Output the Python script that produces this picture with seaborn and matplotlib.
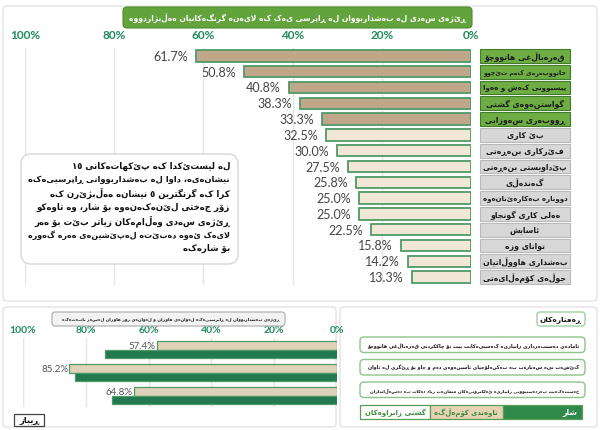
import re
import unicodedata

import matplotlib
matplotlib.use('Agg')
import matplotlib.pyplot as plt
import matplotlib.transforms as mtransforms
from matplotlib.patches import FancyBboxPatch, Rectangle
import pandas as pd
import seaborn as sns

# ---------------- data ----------------
title_top = "ڕێژەی سەدی لە بەشداربووان لە ڕاپرسی یەک کە لایەنە گرنگەکانیان هەڵبژاردووە"

categories = [
    "قەرەباڵغی هاتووچۆ",
    "خانووبەرەی کەم تێچوو",
    "پیسبوونی کەش و هەوا",
    "گواستنەوەی گشتی",
    "ڕووبەری سەوزایی",
    "بێ کاری",
    "فێرکاری بنەڕەتی",
    "پێداویستی بنەڕەتی",
    "گەندەڵی",
    "دووبارە بەکارهێنانەوە",
    "هەلی کاری گونجاو",
    "ئاسایش",
    "توانای وزە",
    "بەشداری هاووڵاتیان",
    "جوڵەی کۆمەڵایەتی",
]
percent = [61.7, 50.8, 40.8, 38.3, 33.3, 32.5, 30.0, 27.5, 25.8, 25.0, 25.0, 22.5, 15.8, 14.2, 13.3]
top_n = 5
x_ticks = [100, 80, 60, 40, 20, 0]

note_lines = [
    "لە لیستێکدا کە پێکهاتەکانی ١٥",
    "نیشانەیە، داوا لە بەشداربووانی ڕاپرسییەکە",
    "کرا کە گرنگترین ٥ نیشانە هەڵبژێرن کە",
    "زۆر جەختی لێنەکەنەوە بۆ شار، وە تاوەکو",
    "ڕێژەی سەدی وەڵامەکان زیاتر بێت بۆ هەر",
    "لایەک ئەوە دەبێتە لەپێشینەی هەرە گەورە",
    "بۆ شارەکە",
]

title_bottom = "ڕێژەی بەشداربووان لە ڕاپرسییەکە لەوانەی هاوڕان و لەوانەی زۆر هاوڕان لەسەر بابەتەکە"
behaviours_title = "ڕەفتارەکان"
behaviours = [
    "ئامادەی دەستبەرداری زانیاریە کەسییەکانت بیت بۆ چاککردنی قەرەباڵغی هاتووچۆ",
    "کێشەت نیە سەبارەت بە تەکنەلۆجیای ناسینەوەی دەم و چاو بۆ ڕێگری لە تاوان",
    "خەستەکەیت بەردەستبوونی زانیاریە ئەلکترۆنیەکان متمانەت زیاد دەکات بە دەسەڵاتداران",
]
series_names = ["شار", "ناوەندی کۆمەڵگە", "گشتی زانراوەکان"]
community = [57.4, 85.2, 64.8]
city = [73.8, 83.4, 71.6]
button_text = "ڕیباز"

# ---------------- simple arabic shaping (matplotlib has no rtl layout) ----------------
FORMS = {}
for cp in range(0xFB50, 0xFF00):
    parts = unicodedata.decomposition(chr(cp)).split()
    if len(parts) == 2 and parts[0] in ('<isolated>', '<final>', '<initial>', '<medial>'):
        FORMS.setdefault(chr(int(parts[1], 16)), {})[parts[0][1:-1]] = chr(cp)


def dual(c):
    f = FORMS.get(c, {})
    return 'initial' in f and 'medial' in f


def right(c):
    return 'final' in FORMS.get(c, {})


def rtl(s):
    out = []
    i = 0
    while i < len(s):
        c = s[i]
        after = dual(s[i - 1]) if i > 0 else False
        if c == 'ل' and s[i + 1:i + 2] == 'ا':
            out.append('\ufefc' if after else '\ufefb')
            i += 2
            continue
        a = after and right(c)
        b = dual(c) and i + 1 < len(s) and right(s[i + 1])
        form = 'medial' if a and b else 'final' if a else 'initial' if b else 'isolated'
        out.append(FORMS.get(c, {}).get(form, c))
        i += 1
    text = ''.join(out)[::-1]
    return re.sub(r'[0-9\u0660-\u0669]+', lambda m: m.group(0)[::-1], text)


# ---------------- style ----------------
sns.set_style('white')
plt.rcParams['font.family'] = ['DejaVu Sans']

GREEN_TXT = '#1f8a5c'
TAN_DARK = '#c9a783'
TAN_LIGHT = '#f6e7d3'
TAN_BOT = '#e6d3b3'
BAR_EDGE = '#4f9a66'
DEEP_GREEN = '#14874f'
W, H = 600, 431

fig = plt.figure(figsize=(6, 4.31), dpi=100)
fig.patch.set_facecolor('white')
to_fit = []  # (text, max width in px)


def overlay(z):
    a = fig.add_axes([0, 0, 1, 1], zorder=z)
    a.set_xlim(0, W)
    a.set_ylim(H, 0)
    a.axis('off')
    return a


def px_axes(x0, y0, x1, y1, z=1):
    return fig.add_axes([x0 / W, 1 - y1 / H, (x1 - x0) / W, (y1 - y0) / H], zorder=z)


def rbox(a, x0, y0, x1, y1, fc, ec, lw=0.8, r=3, **kw):
    a.add_patch(FancyBboxPatch((x0, y0), x1 - x0, y1 - y0,
                               boxstyle=f'round,pad=0,rounding_size={r}',
                               fc=fc, ec=ec, lw=lw, **kw))


def ktext(a, x, y, s, maxw, **kw):
    kw.setdefault('fontweight', 'bold')
    kw.setdefault('color', '#111111')
    t = a.text(x, y, rtl(s), va='center', **kw)
    to_fit.append((t, maxw))
    return t


bg = overlay(0)
fg = overlay(3)

# panels
rbox(bg, 3, 7, 597, 302, 'white', '#dcdcdc', r=4)
rbox(bg, 3, 308, 336, 428, 'white', '#dcdcdc', r=3)
rbox(bg, 340, 308, 597, 428, 'white', '#dcdcdc', r=3)

# ---------------- top chart ----------------
ax = px_axes(25, 49, 471, 286)
df_top = pd.DataFrame({
    'cat': categories,
    'pct': percent,
    'grp': ['top' if i < top_n else 'rest' for i in range(len(categories))],
})
sns.barplot(data=df_top, x='pct', y='cat', hue='grp', orient='h', dodge=False,
            palette={'top': TAN_DARK, 'rest': TAN_LIGHT}, width=0.72,
            edgecolor=BAR_EDGE, linewidth=1.3, legend=False, ax=ax)
ax.set_xlim(100, 0)
ax.set_ylim(len(categories) - 0.5, -0.5)
ax.set_xticks(x_ticks)
ax.set_xticklabels([f'{t}%' for t in x_ticks])
ax.xaxis.tick_top()
ax.tick_params(axis='x', length=0, pad=6, labelcolor=GREEN_TXT, labelsize=8.5)
for lab in ax.get_xticklabels():
    lab.set_fontweight('bold')
    lab.set_family('Lato')
ax.set_yticks([])
ax.set_xlabel('')
ax.set_ylabel('')
ax.grid(axis='x', color='#dfe8e2', lw=1)
ax.set_axisbelow(True)
for s in ax.spines.values():
    s.set_visible(False)
ax.patch.set_alpha(0)

for i, v in enumerate(percent):
    ax.text(v + 1.8, i, f'{v:.1f}%', ha='right', va='center', fontsize=9,
            color='#444444', family='Lato')

trans = mtransforms.blended_transform_factory(ax.transAxes, ax.transData)
for i, c in enumerate(categories):
    top = i < top_n
    ax.add_patch(Rectangle((1.02, i - 0.44), 0.202, 0.88, transform=trans, clip_on=False,
                           fc='#6dad43' if top else '#d7d7d7',
                           ec='#3f7d2c' if top else '#b9b9b9', lw=0.8))
    ktext(ax, 1.121, i, c, 84, transform=trans, ha='center', fontsize=5.6,
          color='#1a1a1a', clip_on=False)

# title banner
rbox(fg, 123, 8, 472, 29, '#62a33b', '#4e8c2e', r=4)
ktext(fg, 297, 18.5, title_top, 335, ha='center', fontsize=6.5, color='white')

# note box
rbox(fg, 21, 155, 238, 265, 'white', '#d2d2d2', lw=0.9, r=10)
for k, line in enumerate(note_lines):
    ktext(fg, 230, 166 + k * 13.8, line, 202, ha='right', fontsize=6.2)

# ---------------- bottom-left chart ----------------
ax2 = px_axes(23, 339, 337, 408)
rows = []
for b, v1, v2 in zip(behaviours, community, city):
    rows.append({'item': b, 'series': series_names[1], 'value': v1})
    rows.append({'item': b, 'series': series_names[0], 'value': v2})
df_bot = pd.DataFrame(rows)
sns.barplot(data=df_bot, x='value', y='item', hue='series', orient='h',
            hue_order=[series_names[1], series_names[0]],
            palette=[TAN_BOT, DEEP_GREEN], width=0.72, dodge=True,
            edgecolor=BAR_EDGE, linewidth=0.9, legend=False, ax=ax2)
ax2.set_xlim(100, 0)
ax2.set_ylim(len(behaviours) - 0.5, -0.5)
ax2.set_xticks(x_ticks)
ax2.set_xticklabels([f'{t}%' for t in x_ticks])
ax2.xaxis.tick_top()
ax2.tick_params(axis='x', length=0, pad=3, labelcolor=GREEN_TXT, labelsize=7.5)
for lab in ax2.get_xticklabels():
    lab.set_fontweight('bold')
    lab.set_family('Lato')
ax2.set_yticks([])
ax2.set_xlabel('')
ax2.set_ylabel('')
ax2.grid(axis='x', color='#dfe8e2', lw=1)
ax2.set_axisbelow(True)
for s in ax2.spines.values():
    s.set_visible(False)
ax2.patch.set_alpha(0)
for i, v in enumerate(community):
    ax2.text(v + 0.4, i - 0.18, f'{v:.1f}%', ha='right', va='center', fontsize=7,
             color='#555555', family='Lato')

rbox(fg, 52, 313, 285, 327, '#f3f3f3', '#a9a9a9', r=3)
ktext(fg, 280, 320, title_bottom, 222, ha='right', fontsize=5)

fg.add_patch(Rectangle((14, 415), 30, 12, fc='white', ec='#444444', lw=0.9))
ktext(fg, 29, 421, button_text, 26, ha='center', fontsize=6)

# ---------------- right panel ----------------
rbox(fg, 537, 313, 585, 327, 'white', '#9fd09f', lw=1, r=3)
ktext(fg, 561, 320, behaviours_title, 42, ha='center', fontsize=5.6)

for k, b in enumerate(behaviours):
    y0 = 338 + k * 22.5
    rbox(fg, 360, y0, 585, y0 + 15.5, 'white', '#8cc48c', lw=1, r=4)
    ktext(fg, 579, y0 + 7.8, b, 212, ha='right', fontsize=4.2)

fg.add_patch(Rectangle((360, 406), 70, 14, fc='white', ec='#5a9e5a', lw=0.9))
fg.add_patch(Rectangle((430, 406), 73, 14, fc=TAN_BOT, ec='#5a9e5a', lw=0.9))
fg.add_patch(Rectangle((503, 406), 79, 14, fc='#2f8a4a', ec='#5a9e5a', lw=0.9))
ktext(fg, 395, 413, series_names[2], 62, ha='center', fontsize=5, color='#3a8a3a')
ktext(fg, 466, 413, series_names[1], 64, ha='center', fontsize=5, color='#3a8a3a')
ktext(fg, 577, 413, series_names[0], 40, ha='right', fontsize=5.6, color='white')

# shrink any kurdish text that is wider than its box
renderer = fig.canvas.get_renderer()
for t, maxw in to_fit:
    w = t.get_window_extent(renderer).width
    if w > maxw:
        t.set_fontsize(t.get_fontsize() * maxw / w)

fig.savefig('out.png', dpi=100)
